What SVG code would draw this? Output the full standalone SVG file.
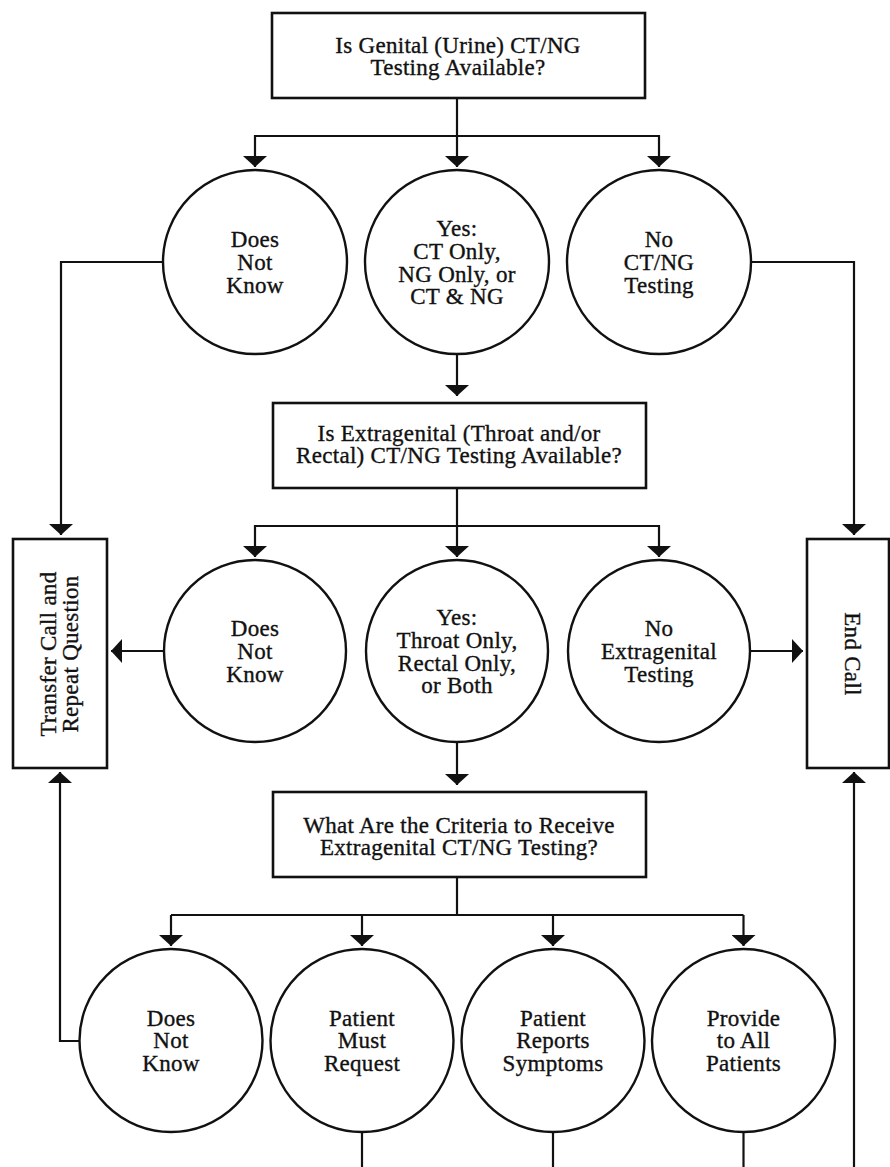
<svg xmlns="http://www.w3.org/2000/svg" width="890" height="1167" viewBox="0 0 890 1167">
<style>
.box{fill:#fff;stroke:#111;stroke-width:2.6}
.node{fill:#fff;stroke:#111;stroke-width:2.4}
.t{font-family:"Liberation Serif","Times New Roman",serif;font-size:23px;fill:#111;stroke:#111;stroke-width:0.35px;letter-spacing:0.3px;text-anchor:middle}
.c{fill:none;stroke:#111;stroke-width:2.2}
.a{marker-end:url(#ah)}
</style>
<defs>
<marker id="ah" viewBox="0 0 11 24" refX="11" refY="12" markerWidth="11" markerHeight="24" markerUnits="userSpaceOnUse" orient="auto">
<path d="M0,0 L11,12 L0,24 Z" fill="#111"/>
</marker>
</defs>
<rect width="890" height="1167" fill="#fff"/>
<g id="connectors">
<path class="c a" d="M457,98 V167"/>
<path class="c a" d="M457,136 H255 V167"/>
<path class="c a" d="M457,136 H659 V167"/>
<path class="c a" d="M457,354 V396"/>
<path class="c a" d="M163,262 H61 V535"/>
<path class="c a" d="M751,262 H854 V535"/>
<path class="c a" d="M457,488 V557"/>
<path class="c a" d="M457,526 H255 V557"/>
<path class="c a" d="M457,526 H659 V557"/>
<path class="c a" d="M164,651 H111"/>
<path class="c a" d="M750,651 H803"/>
<path class="c a" d="M457,742 V785"/>
<path class="c" d="M457,877 V915"/>
<path class="c" d="M171,915 H743.5"/>
<path class="c a" d="M171,915 V946"/>
<path class="c a" d="M362,915 V946"/>
<path class="c a" d="M553,915 V946"/>
<path class="c a" d="M743.5,915 V946"/>
<path class="c a" d="M79.5,1041 H60 V772"/>
<path class="c a" d="M854,1170 V772"/>
<path class="c" d="M362,1132 V1170"/>
<path class="c" d="M553,1132 V1170"/>
<path class="c" d="M743.5,1132 V1170"/>
</g>
<g id="q1">
<rect class="box" x="272" y="13" width="373" height="85"/>
<text class="t"><tspan x="458" y="53">Is Genital (Urine) CT/NG</tspan><tspan x="458" y="75">Testing Available?</tspan></text>
</g>
<g id="q1-dnk">
<circle class="node" cx="255" cy="262" r="92"/>
<text class="t"><tspan x="255" y="247">Does</tspan><tspan x="255" y="269.5">Not</tspan><tspan x="255" y="292.5">Know</tspan></text>
</g>
<g id="q1-yes">
<circle class="node" cx="457" cy="262" r="92"/>
<text class="t"><tspan x="457" y="236">Yes:</tspan><tspan x="457" y="258.5">CT Only,</tspan><tspan x="457" y="281.5">NG Only, or</tspan><tspan x="457" y="304">CT &amp; NG</tspan></text>
</g>
<g id="q1-no">
<circle class="node" cx="659" cy="262" r="92"/>
<text class="t"><tspan x="659" y="247">No</tspan><tspan x="659" y="269.5">CT/NG</tspan><tspan x="659" y="292.5">Testing</tspan></text>
</g>
<g id="q2">
<rect class="box" x="273" y="403" width="373" height="85"/>
<text class="t"><tspan x="459" y="441">Is Extragenital (Throat and/or</tspan><tspan x="459" y="462.5">Rectal) CT/NG Testing Available?</tspan></text>
</g>
<g id="transfer">
<rect class="box" x="13" y="539" width="94" height="229"/>
<text class="t" transform="translate(56,654) rotate(-90)"><tspan x="0" y="0">Transfer Call and</tspan><tspan x="0" y="22">Repeat Question</tspan></text>
</g>
<g id="endcall">
<rect class="box" x="807" y="539" width="82" height="229"/>
<text class="t" transform="translate(845,654) rotate(90)"><tspan x="0" y="0">End Call</tspan></text>
</g>
<g id="q2-dnk">
<circle class="node" cx="255" cy="651" r="91"/>
<text class="t"><tspan x="255" y="636">Does</tspan><tspan x="255" y="658.5">Not</tspan><tspan x="255" y="681.5">Know</tspan></text>
</g>
<g id="q2-yes">
<circle class="node" cx="457" cy="651" r="91"/>
<text class="t"><tspan x="457" y="625">Yes:</tspan><tspan x="457" y="647.5">Throat Only,</tspan><tspan x="457" y="670.5">Rectal Only,</tspan><tspan x="457" y="693">or Both</tspan></text>
</g>
<g id="q2-no">
<circle class="node" cx="659" cy="651" r="91"/>
<text class="t"><tspan x="659" y="636">No</tspan><tspan x="659" y="658.5">Extragenital</tspan><tspan x="659" y="681.5">Testing</tspan></text>
</g>
<g id="q3">
<rect class="box" x="273" y="792" width="373" height="85"/>
<text class="t"><tspan x="459" y="833">What Are the Criteria to Receive</tspan><tspan x="459" y="854.5">Extragenital CT/NG Testing?</tspan></text>
</g>
<g id="q3-dnk">
<circle class="node" cx="171" cy="1040.5" r="91.5"/>
<text class="t"><tspan x="171" y="1025.5">Does</tspan><tspan x="171" y="1048">Not</tspan><tspan x="171" y="1071">Know</tspan></text>
</g>
<g id="q3-request">
<circle class="node" cx="362" cy="1040.5" r="91.5"/>
<text class="t"><tspan x="362" y="1025.5">Patient</tspan><tspan x="362" y="1048">Must</tspan><tspan x="362" y="1071">Request</tspan></text>
</g>
<g id="q3-symptoms">
<circle class="node" cx="553" cy="1040.5" r="91.5"/>
<text class="t"><tspan x="553" y="1025.5">Patient</tspan><tspan x="553" y="1048">Reports</tspan><tspan x="553" y="1071">Symptoms</tspan></text>
</g>
<g id="q3-all">
<circle class="node" cx="743.5" cy="1040.5" r="91.5"/>
<text class="t"><tspan x="743.5" y="1025.5">Provide</tspan><tspan x="743.5" y="1048">to All</tspan><tspan x="743.5" y="1071">Patients</tspan></text>
</g>
</svg>
